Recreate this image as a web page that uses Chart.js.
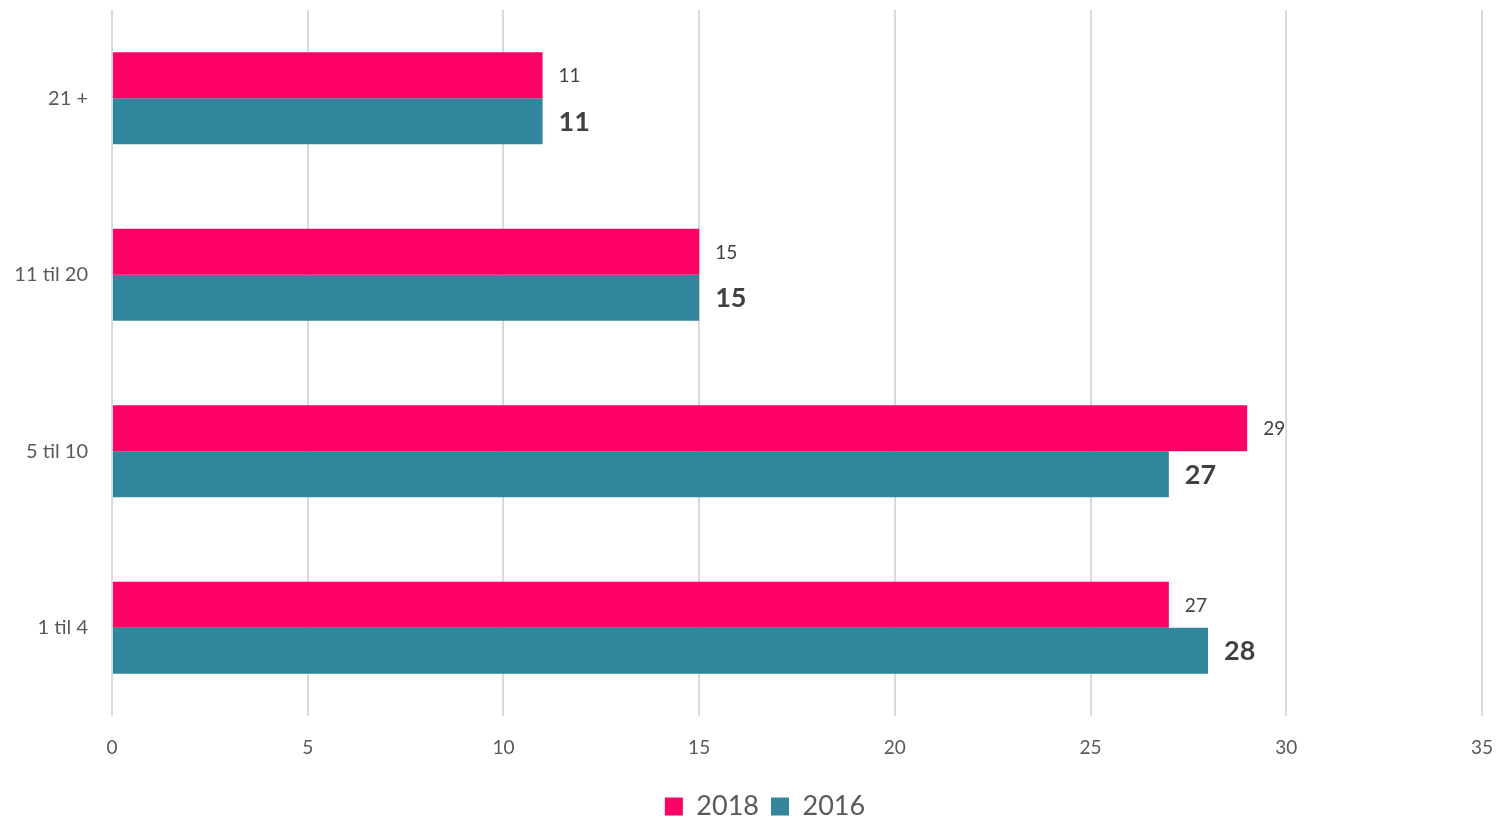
<!DOCTYPE html>
<html>
<head>
<meta charset="utf-8">
<script src="https://cdn.jsdelivr.net/npm/chart.js@4.4.1/dist/chart.umd.min.js"></script>
<style>
  html, body { margin: 0; padding: 0; background: #fff; }
  #wrap { width: 1497px; height: 819px; }
</style>
</head>
<body>
<div id="wrap"><canvas id="barChart" width="1497" height="819"></canvas></div>
<script>
// chart data
const categories = ['21 +', '11 til 20', '5 til 10', '1 til 4'];
const values2018 = [11, 15, 29, 27];
const values2016 = [11, 15, 27, 28];
const xTicks = [0, 5, 10, 15, 20, 25, 30, 35];

const FONT = 'Lato, "Open Sans", sans-serif';

// draw value labels to the right of each bar
const valueLabels = {
    id: 'valueLabels',
    afterDatasetsDraw(chart) {
        const ctx = chart.ctx;
        ctx.save();
        ctx.textBaseline = 'middle';
        ctx.textAlign = 'left';
        chart.data.datasets.forEach((ds, i) => {
            const meta = chart.getDatasetMeta(i);
            meta.data.forEach((bar, j) => {
                if (i === 0) {
                    ctx.font = '19px ' + FONT;
                } else {
                    ctx.font = 'bold 27px ' + FONT;
                }
                ctx.fillStyle = '#404040';
                ctx.fillText(ds.data[j], bar.x + 16, bar.y + 1);
            });
        });
        ctx.restore();
    }
};

// legend in the original sits a bit right of the page centre
const legendShift = {
    id: 'legendShift',
    afterLayout(chart) {
        chart.legend.left += 24;
        chart.legend.right += 24;
    }
};

new Chart(document.getElementById('barChart'), {
    type: 'bar',
    data: {
        labels: categories,
        datasets: [
            {
                label: '2018',
                data: values2018,
                backgroundColor: '#FF0066',
                barPercentage: 1,
                categoryPercentage: 0.52
            },
            {
                label: '2016',
                data: values2016,
                backgroundColor: '#31859C',
                barPercentage: 1,
                categoryPercentage: 0.52
            }
        ]
    },
    options: {
        indexAxis: 'y',
        responsive: false,
        animation: false,
        layout: { padding: { top: 10, right: 15, left: 0, bottom: 0 } },
        scales: {
            x: {
                min: 0,
                max: 35,
                afterBuildTicks: s => { s.ticks = xTicks.map(v => ({ value: v })); },
                afterFit: s => {
                    s.height = 65;
                    s.paddingLeft = 0;
                    s.paddingRight = 0;
                },
                grid: { color: '#d9d9d9', lineWidth: 2, drawTicks: false },
                border: { display: false },
                ticks: { color: '#595959', font: { family: FONT, size: 19 }, padding: 20, maxRotation: 0 }
            },
            y: {
                afterFit: s => {
                    s.width = 112;
                    s.paddingTop = 0;
                    s.paddingBottom = 0;
                },
                grid: { display: false },
                border: { display: false },
                ticks: { color: '#595959', font: { family: FONT, size: 20 }, padding: 16 }
            }
        },
        plugins: {
            legend: {
                position: 'bottom',
                maxHeight: 38,
                labels: {
                    color: '#595959',
                    font: { family: FONT, size: 27 },
                    boxWidth: 18,
                    boxHeight: 18,
                    padding: 12
                }
            },
            tooltip: { enabled: false }
        }
    },
    plugins: [valueLabels, legendShift]
});
</script>
</body>
</html>
